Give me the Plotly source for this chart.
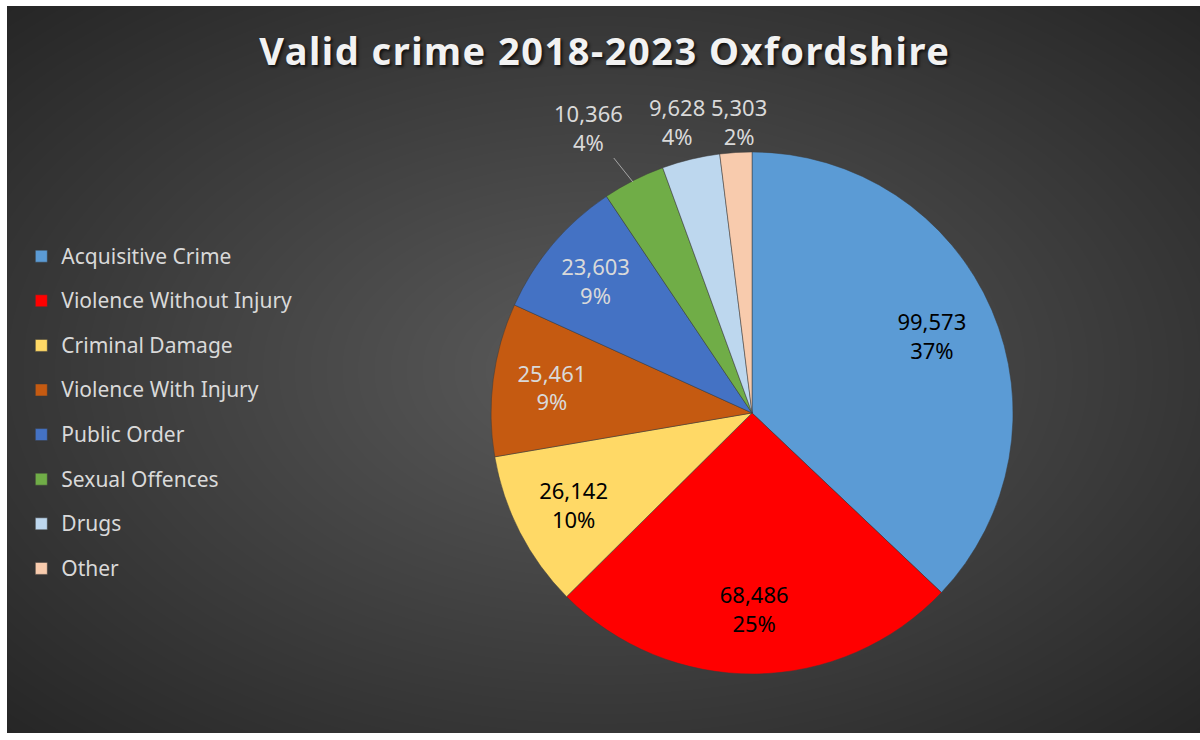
import numpy as np
import plotly.graph_objects as go

title = "Valid crime 2018-2023 Oxfordshire"
categories = [
    "Acquisitive Crime",
    "Violence Without Injury",
    "Criminal Damage",
    "Violence With Injury",
    "Public Order",
    "Sexual Offences",
    "Drugs",
    "Other",
]
counts = [99573, 68486, 26142, 25461, 23603, 10366, 9628, 5303]
# percentages as printed on the chart (Excel makes them add up to 100)
shares = [37, 25, 10, 9, 9, 4, 4, 2]

slice_colors = ["#5b9bd5", "#ff0000", "#ffd966", "#c55a11", "#4472c4", "#70ad47", "#bdd7ee", "#f8cbad"]
label_colors = ["#000000", "#000000", "#000000", "#d9d9d9", "#d9d9d9", "#d9d9d9", "#d9d9d9", "#d9d9d9"]
label_pos = ["inside", "inside", "inside", "inside", "inside", "none", "none", "none"]

# radial backdrop, lighter in the middle like the Excel chart area
gx = np.linspace(0, 1, 80)
gy = np.linspace(0, 1, 50)
GX, GY = np.meshgrid(gx, gy)
glow = np.sqrt((GX - 0.5) ** 2 + (GY - 0.5) ** 2) / np.sqrt(0.5)

pie_domain = dict(x=[0.4057, 0.8433], y=[0.0812, 0.7992])

fig = go.Figure()
fig.add_trace(
    go.Heatmap(
        x=gx, y=gy, z=glow, zsmooth="best", showscale=False, hoverinfo="skip",
        colorscale=[[0, "#5a5a5a"], [1, "#262626"]],
    )
)

legend_text = ['<span style="font-size:21px;baseline-shift:5px">%s</span>' % c for c in categories]

# the coloured slices
fig.add_trace(
    go.Pie(
        labels=legend_text,
        values=counts,
        sort=False,
        direction="clockwise",
        rotation=0,
        marker=dict(colors=slice_colors, line=dict(color="#3a3a3a", width=0.5)),
        textinfo="none",
        domain=pie_domain,
        hovertemplate="%{value:,}<extra></extra>",
    )
)

# transparent ring on top that only carries the data labels, so they sit
# further out from the centre like Excel puts them
fig.add_trace(
    go.Pie(
        labels=categories,
        values=counts,
        text=shares,
        sort=False,
        direction="clockwise",
        rotation=0,
        hole=0.5,
        showlegend=False,
        marker=dict(colors=["rgba(0,0,0,0)"] * len(counts), line=dict(width=0)),
        texttemplate="%{value:,}<br>%{text}%",
        textposition=label_pos,
        insidetextorientation="horizontal",
        textfont=dict(family="Noto Sans", size=22, color=label_colors),
        domain=pie_domain,
        hoverinfo="skip",
    )
)

# small slices get their labels above the pie
small_xy = [(0.4878, 0.8336), (0.5616, 0.8418), (0.6136, 0.8418)]
for i, (px, py) in zip(range(5, 8), small_xy):
    ann = dict(
        x=px, y=py, xref="paper", yref="paper",
        xanchor="center", yanchor="middle",
        text="%s<br>%d%%" % (format(counts[i], ","), shares[i]),
        showarrow=False,
        font=dict(family="Noto Sans", size=22, color="#d9d9d9"),
    )
    if i == 5:
        # leader line down to the green slice
        ann.update(
            showarrow=True, x=0.5247, y=0.7579, ax=-44, ay=-55,
            arrowhead=0, arrowwidth=1, arrowcolor="#a6a6a6", standoff=0,
        )
    fig.add_annotation(ann)

fig.update_layout(
    width=1200,
    height=740,
    margin=dict(l=7, r=0, t=6, b=7),
    paper_bgcolor="white",
    plot_bgcolor="#3a3a3a",
    title=dict(
        text='<b><span style="letter-spacing:1.5px">%s</span></b>' % title,
        x=0.504, xanchor="center", y=0.93, yanchor="middle",
        font=dict(family="Noto Sans", size=38, color="#f2f2f2", shadow="2px 2px 3px rgba(0,0,0,0.7)"),
    ),
    xaxis=dict(visible=False, range=[0, 1], fixedrange=True),
    yaxis=dict(visible=False, range=[0, 1], fixedrange=True),
    legend=dict(
        x=0.012, xanchor="left", y=0.441, yanchor="middle",
        font=dict(family="Noto Sans", size=32, color="#d9d9d9"),
        bgcolor="rgba(0,0,0,0)",
    ),
    showlegend=True,
)

fig.write_html(
    "out.html",
    config={"displayModeBar": False},
    post_script="document.body.style.margin = '0';",
)
